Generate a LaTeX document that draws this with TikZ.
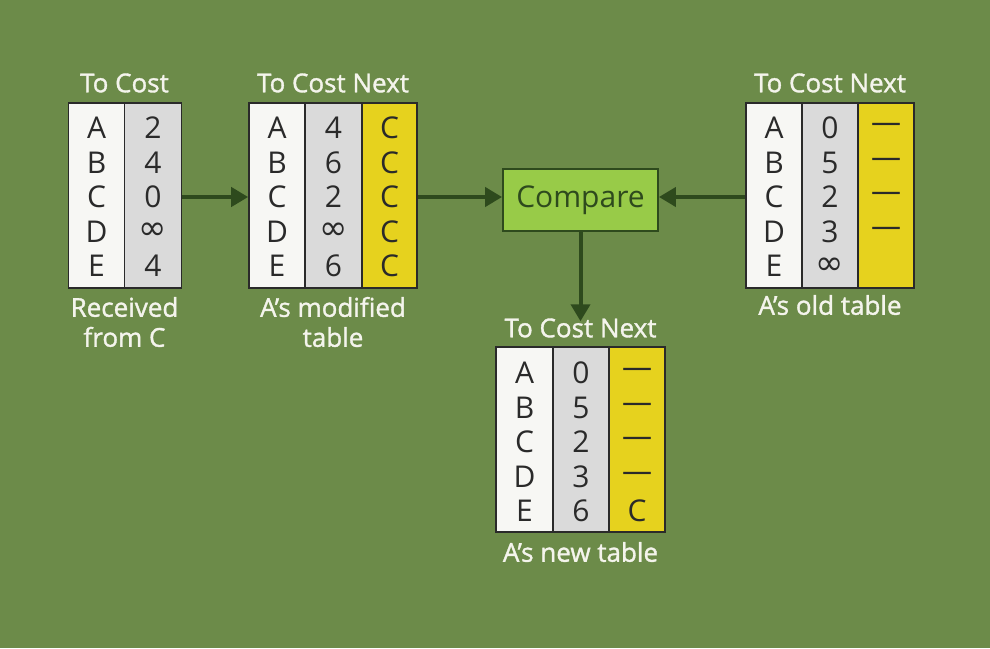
\documentclass[tikz,border=0pt]{standalone}
\usepackage{fontspec}
\setmainfont{Open Sans}
\newfontfamily\titlefont{Open Sans}[FakeBold=1.3]
\newfontfamily\symfont{DejaVu Sans}
\usetikzlibrary{arrows.meta}
\definecolor{bg}{HTML}{6C8B49}
\definecolor{dk}{HTML}{2E4A1D}
\definecolor{cellw}{HTML}{F7F7F4}
\definecolor{cellg}{HTML}{DADADA}
\definecolor{celly}{HTML}{E6D21E}
\definecolor{cmpfill}{HTML}{98CB48}
\definecolor{txt}{HTML}{2A2A2A}
\definecolor{ttl}{HTML}{F4F4EC}
\newcommand{\inft}{{\symfont\fontsize{34}{34}\selectfont ∞}}
\tikzset{
  colbox/.style={draw=txt, line width=1.6pt, inner sep=0pt, minimum height=185pt},
  cell/.style={text=txt, font=\fontsize{30}{30}\selectfont, inner sep=0pt, anchor=center},
  title/.style={text=ttl, font=\titlefont\fontsize{26}{30}\selectfont, align=center, inner sep=0pt},
  conn/.style={draw=dk, line width=4pt, -{Triangle[length=17pt,width=19pt]}},
}
\begin{document}
\begin{tikzpicture}[x=1pt,y=-1pt]
\fill[bg] (0,0) rectangle (990,648);
\useasboundingbox (0,0) rectangle (990,648);

% ---------- Table 1: received from C
\node[colbox, fill=cellw, minimum width=56pt] (t1c1) at (96.5,195.5) {};
\node[colbox, fill=cellg, minimum width=57pt] (t1c2) at (153,195.5) {};
\foreach \n/\a/\b [count=\i] in {1/A/2,2/B/4,3/C/0,4/D/\inft,5/E/4}{
  \pgfmathsetmacro\yy{128+34.5*(\i-1)}
  \node[cell] (t1a\i) at (96.5,\yy) {\a};
  \node[cell] (t1b\i) at (153,\yy) {\b};
}
\node[title] (t1title) at (124.5,83) {To Cost};
\node[title] (t1lab) at (124.5,322) {Received\\from C};

% ---------- Table 2: A's modified table
\node[colbox, fill=cellw, minimum width=56pt] (t2c1) at (277,195.5) {};
\node[colbox, fill=cellg, minimum width=57pt] (t2c2) at (333.5,195.5) {};
\node[colbox, fill=celly, minimum width=55pt] (t2c3) at (389.5,195.5) {};
\foreach \n/\a/\b [count=\i] in {1/A/4,2/B/6,3/C/2,4/D/\inft,5/E/6}{
  \pgfmathsetmacro\yy{128+34.5*(\i-1)}
  \node[cell] (t2a\i) at (277,\yy) {\a};
  \node[cell] (t2b\i) at (333.5,\yy) {\b};
  \node[cell] (t2n\i) at (389.5,\yy) {C};
}
\node[title] (t2title) at (333,83) {To Cost Next};
\node[title] (t2lab) at (333,322) {A’s modified\\table};

% ---------- Compare
\node[draw=dk, line width=1.8pt, fill=cmpfill, minimum width=155pt, minimum height=62pt,
      inner sep=0pt, text=dk, font=\fontsize{30}{30}\selectfont] (cmp) at (580.5,200) {Compare};

% ---------- Table 3: A's old table
\node[colbox, fill=cellw, minimum width=56pt] (t3c1) at (774,195.5) {};
\node[colbox, fill=cellg, minimum width=56pt] (t3c2) at (830,195.5) {};
\node[colbox, fill=celly, minimum width=56pt] (t3c3) at (886,195.5) {};
\foreach \n/\a/\b/\c [count=\i] in {1/A/0/—,2/B/5/—,3/C/2/—,4/D/3/—,5/E/\inft/{}}{
  \pgfmathsetmacro\yy{128+34.5*(\i-1)}
  \node[cell] (t3a\i) at (774,\yy) {\a};
  \node[cell] (t3b\i) at (830,\yy) {\b};
  \node[cell] (t3n\i) at (886,\yy) {\c};
}
\node[title] (t3title) at (830,83) {To Cost Next};
\node[title] (t3lab) at (830,305) {A’s old table};

% ---------- Table 4: A's new table
\node[colbox, fill=cellw, minimum width=57pt] (t4c1) at (524.5,439.5) {};
\node[colbox, fill=cellg, minimum width=56pt] (t4c2) at (581,439.5) {};
\node[colbox, fill=celly, minimum width=56pt] (t4c3) at (637,439.5) {};
\foreach \n/\a/\b/\c [count=\i] in {1/A/0/—,2/B/5/—,3/C/2/—,4/D/3/—,5/E/6/C}{
  \pgfmathsetmacro\yy{373+34.5*(\i-1)}
  \node[cell] (t4a\i) at (524.5,\yy) {\a};
  \node[cell] (t4b\i) at (581,\yy) {\b};
  \node[cell] (t4n\i) at (637,\yy) {\c};
}
\node[title] (t4title) at (580.5,328) {To Cost Next};
\node[title] (t4lab) at (580.5,552) {A’s new table};

% ---------- connectors
\draw[conn] (t1c2.east |- 0,197) -- (t2c1.west |- 0,197);
\draw[conn] (t2c3.east |- 0,197) -- (cmp.west |- 0,197);
\draw[conn] (t3c1.west |- 0,197) -- (cmp.east |- 0,197);
\draw[conn] (cmp.south) -- ([yshift=-3pt]t4title.north);
\end{tikzpicture}
\end{document}
